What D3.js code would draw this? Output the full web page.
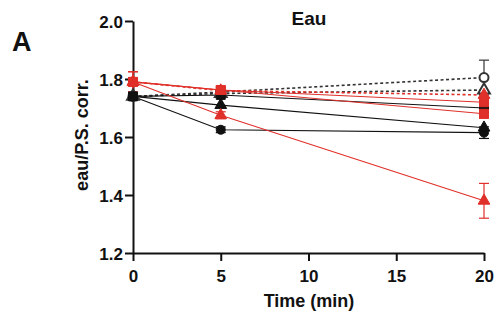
<!DOCTYPE html>
<html lang="en">
<head>
<meta charset="UTF-8">
<title>Eau</title>
<script src="https://d3js.org/d3.v7.min.js"></script>
<style>
    body { margin: 0; background: #fff; font-family: "Liberation Sans", Arial, sans-serif; }
    svg text { font-weight: bold; fill: #111; }
</style>
</head>
<body>
<div id="chart"></div>
<script>
    // Time points (min)
    const times = [0, 5, 20];

    // Series values
    const blackCircle   = [1.74, 1.625, 1.615];
    const blackTriangle = [1.74, 1.71, 1.632];
    const blackSquare   = [1.74, 1.745, 1.70];
    const openCircle    = [1.74, 1.755, 1.805];
    const openTriangle  = [1.74, 1.75, 1.762];
    const redSquare1    = [1.79, 1.762, 1.72];
    const redSquare2    = [1.79, 1.762, 1.68];
    const redTriangle   = [1.79, 1.675, 1.38];
    const redDashed     = [1.79, 1.76, 1.745];

    // error (half-width) for a few points
    const openCircleErr  = [0, 0, 0.06];
    const redTriangleErr = [0.035, 0.012, 0.06];
    const blackCircleErr = [0, 0.01, 0.02];
    const redSquareErr   = [0.035, 0, 0.015];

    const series = [
        { vals: blackCircle,   err: blackCircleErr, color: '#111', dash: null, shape: 'circle', fill: true },
        { vals: blackTriangle, err: null, color: '#111', dash: null, shape: 'triangle', fill: true },
        { vals: openTriangle,  err: null, color: '#333', dash: '3,2.5', shape: 'triangle', fill: false },
        { vals: openCircle,    err: openCircleErr, color: '#333', dash: '3,2.5', shape: 'circle', fill: false },
        { vals: blackSquare,   err: null, color: '#111', dash: null, shape: 'square', fill: true },
        { vals: redDashed,     err: null, color: '#e0302a', dash: '3,2.5', shape: 'triangle', fill: true },
        { vals: redTriangle,   err: redTriangleErr, color: '#e0302a', dash: null, shape: 'triangle', fill: true },
        { vals: redSquare1,    err: null, color: '#e0302a', dash: null, shape: 'square', fill: true },
        { vals: redSquare2,    err: redSquareErr, color: '#e0302a', dash: null, shape: 'square', fill: true }
    ];

    const xTicks = [0, 5, 10, 15, 20];
    const yTicks = [1.2, 1.4, 1.6, 1.8, 2.0];

    const width = 501, height = 322;
    const svg = d3.select('#chart').append('svg')
        .attr('width', width).attr('height', height);

    const x = d3.scaleLinear().domain([0, 20]).range([133, 484]);
    const y = d3.scaleLinear().domain([1.2, 2.0]).range([253, 21]);

    // axes
    const xAxis = svg.append('g').attr('transform', 'translate(0,253)')
        .call(d3.axisBottom(x).tickValues(xTicks).tickFormat(d3.format('d')).tickSize(8).tickSizeOuter(0));
    const yAxis = svg.append('g').attr('transform', 'translate(133,0)')
        .call(d3.axisLeft(y).tickValues(yTicks).tickFormat(d3.format('.1f')).tickSize(8).tickSizeOuter(0));
    [xAxis, yAxis].forEach(a => {
        a.select('.domain').attr('stroke', '#111').attr('stroke-width', 2);
        a.selectAll('.tick line').attr('stroke', '#111').attr('stroke-width', 2);
        a.selectAll('.tick text').style('font-size', '17px').style('font-family', '"Liberation Sans", Arial, sans-serif');
    });
    xAxis.selectAll('.tick text').attr('y', 29).attr('dy', null);
    yAxis.selectAll('.tick text').attr('x', -10).attr('dy', '0.36em');

    // lines
    const line = d3.line().x((d, i) => x(times[i])).y(d => y(d));
    series.forEach(s => {
        svg.append('path')
            .attr('d', line(s.vals))
            .attr('fill', 'none')
            .attr('stroke', s.color)
            .attr('stroke-width', s.dash ? 1.6 : 1.1)
            .attr('stroke-dasharray', s.dash);
    });

    // error bars
    series.filter(s => s.err).forEach(s => {
        s.vals.forEach((v, i) => {
            const e = s.err[i];
            if (!e) return;
            const cx = x(times[i]);
            svg.append('line').attr('x1', cx).attr('x2', cx)
                .attr('y1', y(v + e)).attr('y2', y(v - e))
                .attr('stroke', s.color).attr('stroke-width', 1.2);
            [v + e, v - e].forEach(w => {
                svg.append('line').attr('x1', cx - 5).attr('x2', cx + 5)
                    .attr('y1', y(w)).attr('y2', y(w))
                    .attr('stroke', s.color).attr('stroke-width', 1.2);
            });
        });
    });

    // markers
    const symbolType = { circle: d3.symbolCircle, triangle: d3.symbolTriangle, square: d3.symbolSquare };
    const symbolSize = { circle: 64, triangle: 60, square: 80 };
    series.forEach(s => {
        s.vals.forEach((v, i) => {
            svg.append('path')
                .attr('d', d3.symbol().type(symbolType[s.shape]).size(symbolSize[s.shape])())
                .attr('transform', `translate(${x(times[i])},${y(v)})`)
                .attr('fill', s.fill ? s.color : '#fff')
                .attr('stroke', s.color)
                .attr('stroke-width', s.fill ? 1 : 2);
        });
    });

    // titles
    svg.append('text').attr('x', 309).attr('y', 25).attr('text-anchor', 'middle')
        .style('font-size', '19px').text('Eau');
    svg.append('text').attr('x', 309).attr('y', 307).attr('text-anchor', 'middle')
        .style('font-size', '18px').text('Time (min)');
    svg.append('text').attr('transform', 'translate(88,135) rotate(-90)').attr('text-anchor', 'middle')
        .style('font-size', '18px').text('eau/P.S. corr.');
    svg.append('text').attr('x', 12).attr('y', 51)
        .style('font-size', '27px').text('A');
</script>
</body>
</html>
